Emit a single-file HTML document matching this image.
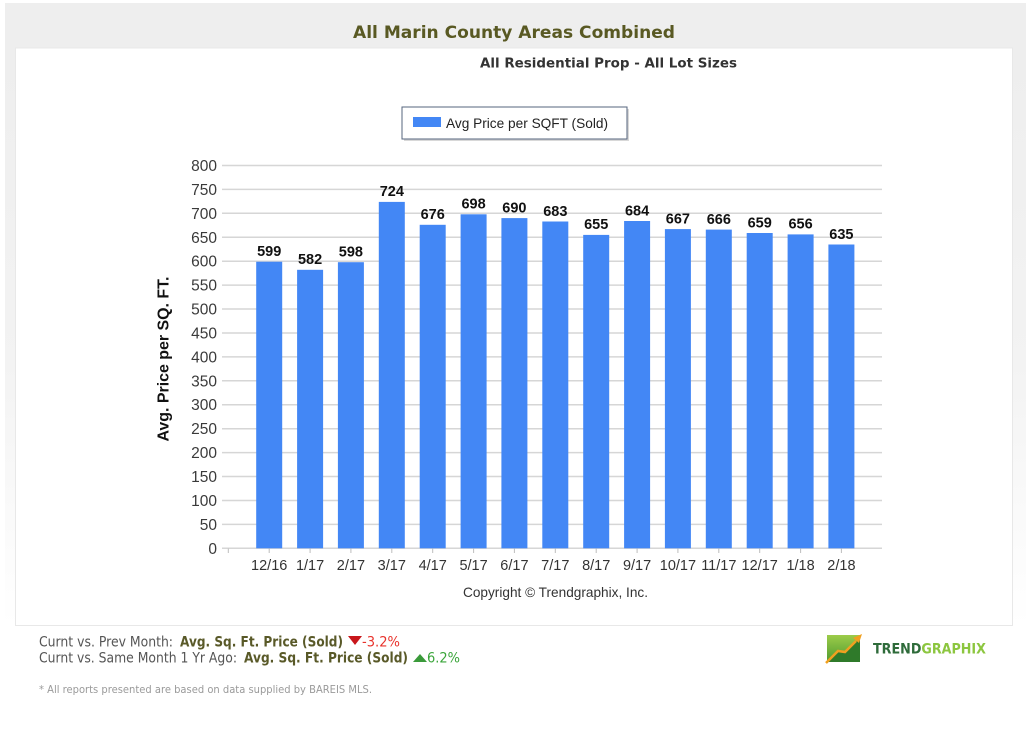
<!DOCTYPE html>
<html><head><meta charset="utf-8"><style>
html,body{margin:0;padding:0;background:#fff;}
svg{display:block;}
</style></head><body>
<svg width="1030" height="738" viewBox="0 0 1030 738" xmlns="http://www.w3.org/2000/svg">
<defs>
<linearGradient id="side" x1="0" y1="0" x2="0" y2="1">
<stop offset="0" stop-color="#eeeeee"/><stop offset="0.55" stop-color="#f3f3f3"/><stop offset="1" stop-color="#ffffff"/>
</linearGradient>
<linearGradient id="logo" x1="0" y1="0" x2="0" y2="1">
<stop offset="0" stop-color="#9ccc4a"/><stop offset="1" stop-color="#4f9a2e"/>
</linearGradient>
</defs>
<rect x="0" y="0" width="1030" height="738" fill="#fff"/>
<rect x="5" y="3" width="1021" height="45" fill="#eeeeee"/>
<rect x="5" y="48" width="10" height="578" fill="url(#side)"/>
<rect x="1013" y="48" width="13" height="578" fill="url(#side)"/>
<rect x="15.5" y="48" width="997" height="577.5" fill="#fff" stroke="#e8e8e8" stroke-width="1"/>

<text x="353" y="38" font-family="DejaVu Sans, Verdana, sans-serif" font-weight="bold" font-size="17" fill="#595923" textLength="322" lengthAdjust="spacingAndGlyphs">All Marin County Areas Combined</text>
<text x="480" y="67.5" font-family="DejaVu Sans, Verdana, sans-serif" font-weight="bold" font-size="13" fill="#333" textLength="257" lengthAdjust="spacingAndGlyphs">All Residential Prop - All Lot Sizes</text>

<!-- legend -->
<rect x="404" y="109" width="225" height="32" fill="#d8d8d8"/>
<rect x="402" y="107" width="225" height="32" fill="#fff" stroke="#56647e" stroke-width="1"/>
<rect x="413" y="117" width="28" height="10" fill="#4387f5"/>
<text x="446" y="128" font-family="Liberation Sans, Arial, sans-serif" font-size="14" fill="#222" textLength="162" lengthAdjust="spacingAndGlyphs">Avg Price per SQFT (Sold)</text>

<!-- gridlines -->
<g stroke="#d6d6d6" stroke-width="1.5">
<line x1="222" x2="882" y1="165.5" y2="165.5"/>
<line x1="222" x2="882" y1="189.4" y2="189.4"/>
<line x1="222" x2="882" y1="213.3" y2="213.3"/>
<line x1="222" x2="882" y1="237.3" y2="237.3"/>
<line x1="222" x2="882" y1="261.2" y2="261.2"/>
<line x1="222" x2="882" y1="285.1" y2="285.1"/>
<line x1="222" x2="882" y1="309.0" y2="309.0"/>
<line x1="222" x2="882" y1="333.0" y2="333.0"/>
<line x1="222" x2="882" y1="356.9" y2="356.9"/>
<line x1="222" x2="882" y1="380.8" y2="380.8"/>
<line x1="222" x2="882" y1="404.7" y2="404.7"/>
<line x1="222" x2="882" y1="428.7" y2="428.7"/>
<line x1="222" x2="882" y1="452.6" y2="452.6"/>
<line x1="222" x2="882" y1="476.5" y2="476.5"/>
<line x1="222" x2="882" y1="500.5" y2="500.5"/>
<line x1="222" x2="882" y1="524.4" y2="524.4"/>
<line x1="222" x2="882" y1="548.3" y2="548.3"/>
</g>
<!-- x ticks -->
<g stroke="#bdbdbd" stroke-width="1">
<line x1="228.3" x2="228.3" y1="548.5" y2="553"/>
<line x1="269.2" x2="269.2" y1="548.5" y2="553"/>
<line x1="310.1" x2="310.1" y1="548.5" y2="553"/>
<line x1="350.9" x2="350.9" y1="548.5" y2="553"/>
<line x1="391.8" x2="391.8" y1="548.5" y2="553"/>
<line x1="432.7" x2="432.7" y1="548.5" y2="553"/>
<line x1="473.6" x2="473.6" y1="548.5" y2="553"/>
<line x1="514.4" x2="514.4" y1="548.5" y2="553"/>
<line x1="555.3" x2="555.3" y1="548.5" y2="553"/>
<line x1="596.2" x2="596.2" y1="548.5" y2="553"/>
<line x1="637.1" x2="637.1" y1="548.5" y2="553"/>
<line x1="677.9" x2="677.9" y1="548.5" y2="553"/>
<line x1="718.8" x2="718.8" y1="548.5" y2="553"/>
<line x1="759.7" x2="759.7" y1="548.5" y2="553"/>
<line x1="800.6" x2="800.6" y1="548.5" y2="553"/>
<line x1="841.4" x2="841.4" y1="548.5" y2="553"/>
</g>

<!-- y labels -->
<g font-family="Liberation Sans, Arial, sans-serif" font-size="15.5" fill="#3a3a3a" text-anchor="end">
<text x="217" y="171">800</text>
<text x="217" y="194.9">750</text>
<text x="217" y="218.8">700</text>
<text x="217" y="242.8">650</text>
<text x="217" y="266.7">600</text>
<text x="217" y="290.6">550</text>
<text x="217" y="314.5">500</text>
<text x="217" y="338.5">450</text>
<text x="217" y="362.4">400</text>
<text x="217" y="386.3">350</text>
<text x="217" y="410.2">300</text>
<text x="217" y="434.2">250</text>
<text x="217" y="458.1">200</text>
<text x="217" y="482">150</text>
<text x="217" y="506">100</text>
<text x="217" y="529.9">50</text>
<text x="217" y="553.8">0</text>
</g>

<text transform="translate(168.5,359) rotate(-90)" text-anchor="middle" font-family="Liberation Sans, Arial, sans-serif" font-weight="bold" font-size="15.5" fill="#111" textLength="165" lengthAdjust="spacingAndGlyphs">Avg. Price per SQ. FT.</text>

<!-- bars -->
<g fill="#4387f5">
<rect x="256.2" y="261.7" width="26" height="286.6"/>
<rect x="297.1" y="269.8" width="26" height="278.5"/>
<rect x="337.9" y="262.2" width="26" height="286.1"/>
<rect x="378.8" y="201.9" width="26" height="346.4"/>
<rect x="419.7" y="224.8" width="26" height="323.5"/>
<rect x="460.6" y="214.3" width="26" height="334.0"/>
<rect x="501.4" y="218.1" width="26" height="330.2"/>
<rect x="542.3" y="221.5" width="26" height="326.8"/>
<rect x="583.2" y="234.9" width="26" height="313.4"/>
<rect x="624.1" y="221.0" width="26" height="327.3"/>
<rect x="664.9" y="229.1" width="26" height="319.2"/>
<rect x="705.8" y="229.6" width="26" height="318.7"/>
<rect x="746.7" y="233.0" width="26" height="315.3"/>
<rect x="787.6" y="234.4" width="26" height="313.9"/>
<rect x="828.4" y="244.5" width="26" height="303.8"/>
</g>

<!-- value labels -->
<g font-family="Liberation Sans, Arial, sans-serif" font-weight="bold" font-size="14.5" fill="#111" text-anchor="middle">
<text x="269.2" y="256">599</text>
<text x="310.1" y="264">582</text>
<text x="350.9" y="256.5">598</text>
<text x="391.8" y="196.2">724</text>
<text x="432.7" y="219">676</text>
<text x="473.6" y="208.6">698</text>
<text x="514.4" y="212.4">690</text>
<text x="555.3" y="215.8">683</text>
<text x="596.2" y="229.2">655</text>
<text x="637.1" y="215.3">684</text>
<text x="677.9" y="223.4">667</text>
<text x="718.8" y="223.9">666</text>
<text x="759.7" y="227.3">659</text>
<text x="800.6" y="228.7">656</text>
<text x="841.4" y="238.8">635</text>
</g>

<!-- x labels -->
<g font-family="Liberation Sans, Arial, sans-serif" font-size="14.5" fill="#333" text-anchor="middle">
<text x="269.2" y="570">12/16</text>
<text x="310.1" y="570">1/17</text>
<text x="350.9" y="570">2/17</text>
<text x="391.8" y="570">3/17</text>
<text x="432.7" y="570">4/17</text>
<text x="473.6" y="570">5/17</text>
<text x="514.4" y="570">6/17</text>
<text x="555.3" y="570">7/17</text>
<text x="596.2" y="570">8/17</text>
<text x="637.1" y="570">9/17</text>
<text x="677.9" y="570">10/17</text>
<text x="718.8" y="570">11/17</text>
<text x="759.7" y="570">12/17</text>
<text x="800.6" y="570">1/18</text>
<text x="841.4" y="570">2/18</text>
</g>

<text x="463" y="597" font-family="Liberation Sans, Arial, sans-serif" font-size="14" fill="#333" textLength="185" lengthAdjust="spacingAndGlyphs">Copyright © Trendgraphix, Inc.</text>

<!-- bottom text -->
<g font-family="DejaVu Sans, Verdana, sans-serif" font-size="14">
<text x="39" y="646.5" fill="#555" textLength="134" lengthAdjust="spacingAndGlyphs">Curnt vs. Prev Month:</text>
<text x="180" y="646.5" fill="#595928" font-weight="bold" textLength="163" lengthAdjust="spacingAndGlyphs">Avg. Sq. Ft. Price (Sold)</text>
<polygon points="348,636 362,636 355,645" fill="#c8161b"/>
<text x="362" y="646.5" fill="#e8322b" textLength="38" lengthAdjust="spacingAndGlyphs">-3.2%</text>
<text x="39" y="662.5" fill="#555" textLength="198" lengthAdjust="spacingAndGlyphs">Curnt vs. Same Month 1 Yr Ago:</text>
<text x="244" y="662.5" fill="#595928" font-weight="bold" textLength="164" lengthAdjust="spacingAndGlyphs">Avg. Sq. Ft. Price (Sold)</text>
<polygon points="413,662 427,662 420,654" fill="#3a9a3a"/>
<text x="427" y="662.5" fill="#3aa53a" textLength="33" lengthAdjust="spacingAndGlyphs">6.2%</text>
</g>
<text x="39" y="693" font-family="DejaVu Sans, Verdana, sans-serif" font-size="11" fill="#9a9a9a" textLength="333" lengthAdjust="spacingAndGlyphs">* All reports presented are based on data supplied by BAREIS MLS.</text>

<!-- logo -->
<rect x="827" y="635" width="33" height="27" fill="url(#logo)"/>
<polygon points="827,662 838,651 845,652 860,638 860,662" fill="#2f7a2a"/>
<polyline points="826,663 838,651 845,652 856,641" fill="none" stroke="#f0a020" stroke-width="2.5"/>
<polygon points="853,638 862,634 859,643" fill="#f0a020"/>
<text x="873" y="653.5" font-family="DejaVu Sans, Verdana, sans-serif" font-weight="bold" font-size="14.5" textLength="113" lengthAdjust="spacingAndGlyphs"><tspan fill="#2e6b3a">TREND</tspan><tspan fill="#8cc63f">GRAPHIX</tspan></text>
</svg>
</body></html>
